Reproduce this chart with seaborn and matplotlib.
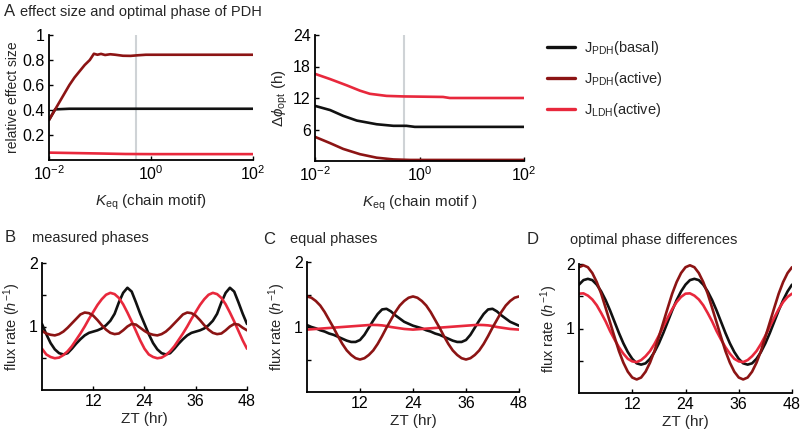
import numpy as np
import pandas as pd
import seaborn as sns
import matplotlib
matplotlib.use("Agg")
from matplotlib import pyplot as plt
from matplotlib.lines import Line2D
from matplotlib.ticker import FixedLocator, FixedFormatter

# colores de las tres series
NEGRO = "#111111"
ROJO_OSCURO = "#8c1414"
ROJO = "#e8283c"

# ---- Panel A izquierda: tamano de efecto relativo (exponentes log10 de Keq)
log_keq_basal = [-2.0, -1.88, -1.6, -1.0, 0.0, 1.0, 2.0]
efecto_basal = [0.32, 0.405, 0.41, 0.41, 0.41, 0.41, 0.41]

log_keq_activo = [-2.0, -1.9, -1.8, -1.7, -1.6, -1.5, -1.4, -1.3, -1.2, -1.12,
                  -1.05, -0.98, -0.9, -0.8, -0.7, -0.55, -0.4, -0.25, -0.1, 0.5, 2.0]
efecto_activo = [0.32, 0.39, 0.46, 0.53, 0.6, 0.66, 0.71, 0.76, 0.80, 0.85,
                 0.842, 0.849, 0.84, 0.846, 0.842, 0.834, 0.833, 0.838, 0.842, 0.842, 0.842]

log_keq_ldh = [-2.0, -1.0, -0.5, 0.0, 1.0, 2.0]
efecto_ldh = [0.059, 0.052, 0.048, 0.047, 0.047, 0.047]

# ---- Panel A derecha: diferencia de fase optima (h)
log_keq_fase_ldh = [-2.0, -1.71, -1.39, -1.14, -0.95, -0.63, -0.31, 0.45, 0.58, 1.0, 2.0]
fase_ldh = [16.6, 15.6, 14.4, 13.4, 12.8, 12.4, 12.3, 12.2, 12.0, 12.0, 12.0]

log_keq_fase_basal = [-2.0, -1.71, -1.46, -1.2, -0.82, -0.5, -0.25, -0.09, 0.5, 1.0, 2.0]
fase_basal = [10.5, 9.7, 8.6, 7.7, 7.0, 6.7, 6.7, 6.5, 6.5, 6.5, 6.5]

log_keq_fase_activo = [-2.0, -1.71, -1.46, -1.14, -0.82, -0.5, -0.18, 0.5, 1.0, 2.0]
fase_activo = [4.6, 3.4, 2.3, 1.3, 0.63, 0.3, 0.2, 0.2, 0.2, 0.2]

keq_referencia = 0.5

# ---- Paneles B, C, D: flujo (h^-1) frente a ZT, cada hora de 0 a 48
zt = list(range(49))

b_basal = [1.04, 0.88, 0.74, 0.64, 0.58, 0.56, 0.58, 0.65, 0.73, 0.80, 0.86, 0.90,
           0.92, 0.94, 0.97, 1.02, 1.09, 1.20, 1.38, 1.53, 1.61, 1.55, 1.38, 1.20,
           1.04, 0.88, 0.74, 0.64, 0.58, 0.56, 0.58, 0.65, 0.73, 0.80, 0.86, 0.90,
           0.92, 0.94, 0.97, 1.02, 1.09, 1.20, 1.38, 1.53, 1.61, 1.55, 1.38, 1.20,
           1.04]
b_activo = [0.93, 0.89, 0.87, 0.86, 0.88, 0.92, 0.98, 1.05, 1.12, 1.19, 1.22, 1.21,
            1.17, 1.10, 1.02, 0.95, 0.90, 0.88, 0.89, 0.94, 1.00, 1.04, 1.03, 0.98,
            0.93, 0.89, 0.87, 0.86, 0.88, 0.92, 0.98, 1.05, 1.12, 1.19, 1.22, 1.21,
            1.17, 1.10, 1.02, 0.95, 0.90, 0.88, 0.89, 0.94, 1.00, 1.04, 1.03, 0.98,
            0.94]
b_ldh = [0.65, 0.56, 0.52, 0.50, 0.51, 0.55, 0.61, 0.69, 0.79, 0.89, 1.00, 1.12,
         1.23, 1.34, 1.43, 1.50, 1.53, 1.51, 1.45, 1.35, 1.22, 1.08, 0.93, 0.78,
         0.65, 0.56, 0.52, 0.50, 0.51, 0.55, 0.61, 0.69, 0.79, 0.89, 1.00, 1.12,
         1.23, 1.34, 1.43, 1.50, 1.53, 1.51, 1.45, 1.35, 1.22, 1.08, 0.93, 0.78,
         0.65]

c_basal = [1.03, 1.00, 0.98, 0.95, 0.93, 0.90, 0.88, 0.85, 0.82, 0.79, 0.77, 0.77,
           0.80, 0.88, 0.99, 1.10, 1.20, 1.27, 1.28, 1.24, 1.18, 1.13, 1.08, 1.05,
           1.02, 1.00, 0.98, 0.95, 0.93, 0.90, 0.88, 0.85, 0.82, 0.79, 0.77, 0.77,
           0.80, 0.88, 0.99, 1.10, 1.20, 1.27, 1.28, 1.24, 1.18, 1.13, 1.08, 1.05,
           1.02]
c_activo = [1.47, 1.45, 1.40, 1.33, 1.23, 1.11, 0.99, 0.86, 0.74, 0.64, 0.57, 0.52,
            0.50, 0.52, 0.57, 0.64, 0.74, 0.86, 0.99, 1.11, 1.23, 1.33, 1.40, 1.45,
            1.47, 1.45, 1.40, 1.33, 1.23, 1.11, 0.99, 0.86, 0.74, 0.64, 0.57, 0.52,
            0.50, 0.52, 0.57, 0.64, 0.74, 0.86, 0.99, 1.11, 1.23, 1.33, 1.40, 1.45,
            1.47]
c_ldh = [0.96, 0.965, 0.97, 0.975, 0.98, 0.985, 0.99, 0.995, 1.0, 1.005, 1.01, 1.015,
         1.02, 1.025, 1.03, 1.032, 1.03, 1.025, 1.015, 1.0, 0.99, 0.98, 0.97, 0.965,
         0.96, 0.965, 0.97, 0.975, 0.98, 0.985, 0.99, 0.995, 1.0, 1.005, 1.01, 1.015,
         1.02, 1.025, 1.03, 1.032, 1.03, 1.025, 1.015, 1.0, 0.99, 0.98, 0.97, 0.965,
         0.96]

d_basal = [1.68, 1.75, 1.77, 1.75, 1.68, 1.575, 1.44, 1.28, 1.105, 0.93, 0.77, 0.635,
           0.53, 0.46, 0.44, 0.46, 0.53, 0.635, 0.77, 0.93, 1.105, 1.28, 1.44, 1.575,
           1.68, 1.75, 1.77, 1.75, 1.68, 1.575, 1.44, 1.28, 1.105, 0.93, 0.77, 0.635,
           0.53, 0.46, 0.44, 0.46, 0.53, 0.635, 0.77, 0.93, 1.105, 1.28, 1.44, 1.575,
           1.68]
d_activo = [1.95, 1.98, 1.95, 1.86, 1.72, 1.54, 1.32, 1.095, 0.87, 0.65, 0.47, 0.33,
            0.24, 0.21, 0.24, 0.33, 0.47, 0.65, 0.87, 1.095, 1.32, 1.54, 1.72, 1.86,
            1.95, 1.98, 1.95, 1.86, 1.72, 1.54, 1.32, 1.095, 0.87, 0.65, 0.47, 0.33,
            0.24, 0.21, 0.24, 0.33, 0.47, 0.65, 0.87, 1.095, 1.32, 1.54, 1.72, 1.86,
            1.95]
d_ldh = [1.54, 1.545, 1.51, 1.45, 1.36, 1.24, 1.11, 0.96, 0.83, 0.71, 0.61, 0.53,
         0.49, 0.48, 0.51, 0.57, 0.65, 0.76, 0.89, 1.03, 1.17, 1.30, 1.41, 1.49,
         1.54, 1.545, 1.51, 1.45, 1.36, 1.24, 1.11, 0.96, 0.83, 0.71, 0.61, 0.53,
         0.49, 0.48, 0.51, 0.57, 0.65, 0.76, 0.89, 1.03, 1.17, 1.30, 1.41, 1.49,
         1.54]

etiquetas_leyenda = [r"$\mathrm{J_{PDH}}$(basal)", r"$\mathrm{J_{PDH}}$(active)",
                     r"$\mathrm{J_{LDH}}$(active)"]

sns.set_style("ticks")
plt.rcParams["font.family"] = ["Liberation Sans", "DejaVu Sans"]
plt.rcParams["mathtext.fontset"] = "custom"
plt.rcParams["mathtext.rm"] = "Liberation Sans"
plt.rcParams["mathtext.it"] = "Liberation Sans:italic"
plt.rcParams["mathtext.bf"] = "Liberation Sans:bold"

LW = 1.9
W, H = 800, 433


def caja(x0, x1, y0, y1):
    # caja en pixeles -> fraccion de figura
    return [x0 / W, 1 - y1 / H, (x1 - x0) / W, (y1 - y0) / H]


def estilo_ejes(ax):
    sns.despine(ax=ax)
    for s in ["left", "bottom"]:
        ax.spines[s].set_linewidth(1.3)
        ax.spines[s].set_color("black")
    ax.tick_params(direction="in", length=3, width=1, labelsize=11.5, pad=3, colors="black")


def linea(ax, x, y, color):
    sns.lineplot(x=x, y=y, color=color, linewidth=LW, ax=ax, legend=False, estimator=None)


fig = plt.figure(figsize=(8, 4.33), dpi=100)

# Panel A izquierda
ax1 = fig.add_axes(caja(49, 253, 35, 160))
ax1.axvline(keq_referencia, color="#cfd3d6", linewidth=1.5, zorder=0)
linea(ax1, 10 ** np.array(log_keq_ldh), efecto_ldh, ROJO)
linea(ax1, 10 ** np.array(log_keq_basal), efecto_basal, NEGRO)
linea(ax1, 10 ** np.array(log_keq_activo), efecto_activo, ROJO_OSCURO)
ax1.set_xscale("log")
ax1.set_xlim(1e-2, 1e2)
ax1.set_ylim(0, 1)
ax1.xaxis.set_major_locator(FixedLocator([1e-2, 1e0, 1e2]))
ax1.xaxis.set_minor_locator(FixedLocator([]))
ax1.set_yticks([0.2, 0.4, 0.6, 0.8, 1.0])
ax1.set_yticklabels(["0.2", "0.4", "0.6", "0.8", "1"])
ax1.set_xlabel(r"$K_{\mathrm{eq}}$ (chain motif)", fontsize=11, labelpad=7)
ax1.set_ylabel("relative effect size", fontsize=10, labelpad=2)
estilo_ejes(ax1)

# Panel A derecha
ax2 = fig.add_axes(caja(315, 524, 35, 161))
ax2.axvline(keq_referencia, color="#cfd3d6", linewidth=1.5, zorder=0)
linea(ax2, 10 ** np.array(log_keq_fase_ldh), fase_ldh, ROJO)
linea(ax2, 10 ** np.array(log_keq_fase_basal), fase_basal, NEGRO)
linea(ax2, 10 ** np.array(log_keq_fase_activo), fase_activo, ROJO_OSCURO)
ax2.set_xscale("log")
ax2.set_xlim(1e-2, 1e2)
ax2.set_ylim(0, 24)
ax2.xaxis.set_major_locator(FixedLocator([1e-2, 1e0, 1e2]))
ax2.xaxis.set_minor_locator(FixedLocator([]))
ax2.set_yticks([6, 12, 18, 24])
ax2.set_xlabel(r"$K_{\mathrm{eq}}$ (chain motif )", fontsize=11, labelpad=7)
ax2.set_ylabel(r"$\Delta\phi_{\mathrm{opt}}$ (h)", fontsize=11, labelpad=2)
estilo_ejes(ax2)

# leyenda
manejadores = [Line2D([], [], color=c, linewidth=2.4) for c in (NEGRO, ROJO_OSCURO, ROJO)]
fig.legend(manejadores, etiquetas_leyenda, loc="upper left", bbox_to_anchor=(534 / W, 1 - 26 / H),
           frameon=False, fontsize=10.5, handlelength=1.9, handletextpad=0.6, labelspacing=0.9)

# Paneles B, C, D
paneles = [
    (caja(42, 247, 263, 390), b_basal, b_activo, b_ldh),
    (caja(307, 519, 262, 392), c_basal, c_activo, c_ldh),
    (caja(579, 792, 264, 393), d_basal, d_activo, d_ldh),
]
for rect, basal, activo, ldh in paneles:
    ax = fig.add_axes(rect)
    linea(ax, zt, basal, NEGRO)
    linea(ax, zt, ldh, ROJO)
    linea(ax, zt, activo, ROJO_OSCURO)
    ax.set_xlim(0, 48)
    ax.set_ylim(0, 2)
    ax.set_xticks([12, 24, 36, 48])
    ax.yaxis.set_major_locator(FixedLocator([0.5, 1, 1.5, 2]))
    ax.yaxis.set_major_formatter(FixedFormatter(["", "1", "", "2"]))
    ax.set_xlabel("ZT (hr)", fontsize=11, labelpad=2)
    ax.set_ylabel(r"flux rate ($h^{-1}$)", fontsize=10.5, labelpad=4)
    estilo_ejes(ax)

# letras y titulos de panel
titulos = [
    (4, 12, "A", 20, "effect size and optimal phase of PDH"),
    (5, 238, "B", 32, "measured phases"),
    (263, 239, "C", 290, "equal phases"),
    (527, 240, "D", 570, "optimal phase differences"),
]
for xl, yl, letra, xt, texto in titulos:
    fig.text(xl / W, 1 - yl / H, letra, fontsize=12, va="center", ha="left")
    fig.text(xt / W, 1 - yl / H, texto, fontsize=10.5, va="center", ha="left")

fig.savefig("out.png", dpi=100)
